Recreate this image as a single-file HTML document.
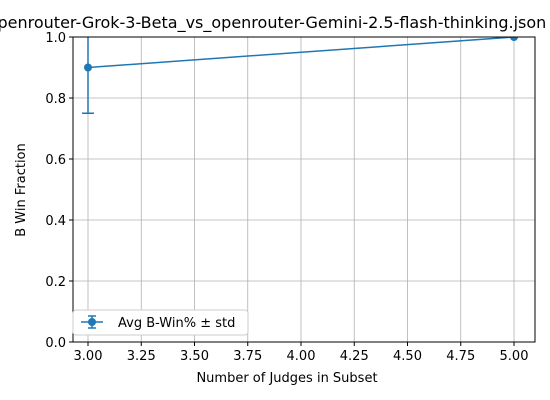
<!DOCTYPE html>
<html><head><meta charset="utf-8"><style>
body{margin:0;background:#fff;}
svg{display:block;font-family:"DejaVu Sans","Liberation Sans",sans-serif;}
</style></head><body>
<svg id="chart" width="550" height="400">
<defs><clipPath id="clip"><rect x="73" y="37" width="462" height="305"/></clipPath></defs>
<text x="267" y="28" text-anchor="middle" font-size="16">openrouter-Grok-3-Beta_vs_openrouter-Gemini-2.5-flash-thinking.json</text>
<g id="grid"></g>
<g id="marks" clip-path="url(#clip)"></g>
<rect x="73" y="37" width="462" height="305" fill="none" stroke="#000" stroke-width="1"/>
<g id="ticks"></g>
<text x="287" y="382" text-anchor="middle" font-size="13">Number of Judges in Subset</text>
<text transform="translate(25,190) rotate(-90)" text-anchor="middle" font-size="13">B Win Fraction</text>
<g>
<rect x="73" y="310" width="175" height="25" rx="3" fill="#fff" stroke="#ccc"/>
<line x1="81" y1="322" x2="103" y2="322" stroke="#1f77b4" stroke-width="1.5"/>
<line x1="92" y1="316" x2="92" y2="328" stroke="#1f77b4" stroke-width="1.5"/>
<line x1="88" y1="316" x2="96" y2="316" stroke="#1f77b4" stroke-width="1.5"/>
<line x1="88" y1="328" x2="96" y2="328" stroke="#1f77b4" stroke-width="1.5"/>
<circle cx="92" cy="322" r="4" fill="#1f77b4"/>
<text x="118" y="327" font-size="13">Avg B-Win% ± std</text>
</g>
</svg>
<script>
const judges = [3, 5];
const winFrac = [0.9, 1.0];
const stdDev = [0.15, 0.0];
const xTicks = [3.0, 3.25, 3.5, 3.75, 4.0, 4.25, 4.5, 4.75, 5.0];
const yTicks = [0.0, 0.2, 0.4, 0.6, 0.8, 1.0];
const NS = "http://www.w3.org/2000/svg";
const xS = v => 88 + (v - 3) * (514 - 88) / 2;
const yS = v => 342 - v * 305;
function mk(tag, attrs, parent){const e=document.createElementNS(NS,tag);for(const k in attrs)e.setAttribute(k,attrs[k]);parent.appendChild(e);return e;}
const grid=document.getElementById('grid'), ticks=document.getElementById('ticks'), marks=document.getElementById('marks');
xTicks.forEach(t=>{
  const x=xS(t);
  const g=mk('line',{x1:x,x2:x,y1:37,y2:342,stroke:'#b0b0b0','stroke-width':0.8},grid);
  
  
  mk('line',{x1:x,x2:x,y1:342,y2:346,stroke:'#000'},ticks);
  const tx=mk('text',{x:x,y:360,'text-anchor':'middle','font-size':13},ticks);
  tx.textContent=t.toFixed(2);
  
  
});
yTicks.forEach(t=>{
  const y=yS(t);
  const g=mk('line',{x1:73,x2:535,y1:y,y2:y,stroke:'#b0b0b0','stroke-width':0.8},grid);
  
  
  mk('line',{x1:69,x2:73,y1:y,y2:y,stroke:'#000'},ticks);
  const tx=mk('text',{x:66,y:y+5,'text-anchor':'end','font-size':13},ticks);
  tx.textContent=t.toFixed(1);
  
  
});
const line=mk('polyline',{points:judges.map((j,i)=>xS(j)+','+yS(winFrac[i])).join(' '),fill:'none',stroke:'#1f77b4','stroke-width':1.5},marks);


judges.forEach((j,i)=>{
  const x=xS(j), lo=yS(winFrac[i]-stdDev[i]), hi=yS(winFrac[i]+stdDev[i]);
  if(stdDev[i]>0){
    const e=mk('line',{x1:x,x2:x,y1:lo,y2:hi,stroke:'#1f77b4','stroke-width':1.5},marks);
    
    
    mk('line',{x1:x-6,x2:x+6,y1:lo,y2:lo,stroke:'#1f77b4','stroke-width':1.5},marks);
    mk('line',{x1:x-6,x2:x+6,y1:hi,y2:hi,stroke:'#1f77b4','stroke-width':1.5},marks);
  }
  const c=mk('circle',{cx:x,cy:yS(winFrac[i]),r:4,fill:'#1f77b4'},marks);
  
  
});
</script>
</body></html>
